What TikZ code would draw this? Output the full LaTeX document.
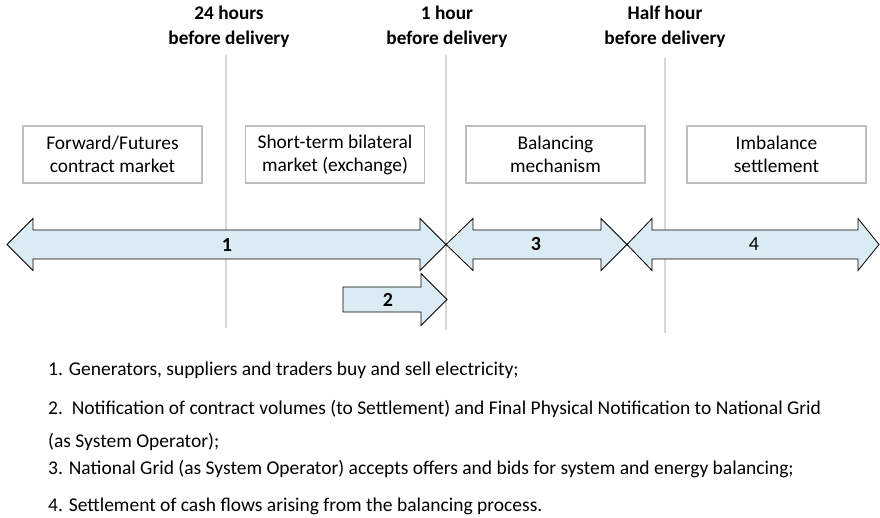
\documentclass[tikz,border=0pt]{standalone}
\usepackage{fontspec}
\setmainfont{Carlito}
\definecolor{arrowfill}{RGB}{219,235,243}
\definecolor{boxline}{RGB}{190,190,190}
\definecolor{vline}{RGB}{215,215,215}
\begin{document}
\begin{tikzpicture}[x=1pt,y=-1pt,
  header/.style={font=\fontsize{19.3}{25}\selectfont\bfseries,align=center,inner sep=0pt},
  market/.style={draw=boxline,line width=1.1pt,minimum width=179pt,minimum height=57pt,align=center,
    font=\fontsize{19.4}{23}\selectfont,inner sep=0pt},
  timeline/.style={draw=vline,line width=1.2pt},
  period/.style={draw=black,line width=0.8pt,fill=arrowfill,line join=miter},
  numlabel/.style={font=\fontsize{20}{24}\selectfont\bfseries,inner sep=0pt},
  note/.style={anchor=west,font=\fontsize{19.5}{23}\selectfont,inner sep=0pt}]
\useasboundingbox (0,0) rectangle (880,517);
% time lines
\coordinate (t1a) at (226,55); \coordinate (t1b) at (226,328);
\coordinate (t2a) at (446,55); \coordinate (t2b) at (446,330);
\coordinate (t3a) at (665,58); \coordinate (t3b) at (665,333);
\draw[timeline] (t1a) -- (t1b);
\draw[timeline] (t2a) -- (t2b);
\draw[timeline] (t3a) -- (t3b);
% headers
\node[header] (h1) at (229,27) {24 hours\\before delivery};
\node[header] (h2) at (447,27) {1 hour\\before delivery};
\node[header] (h3) at (665,27) {Half hour\\before delivery};
% boxes
\node[market] (m1) at (112.5,154.5) {Forward/Futures\\contract market};
\node[market] (m2) at (335,154.5) {Short-term bilateral\\market (exchange)};
\node[market] (m3) at (555.5,154.5) {Balancing\\mechanism};
\node[market] (m4) at (776.5,154.5) {Imbalance\\settlement};
% arrows
\draw[period] (7,244.5) -- (33,218.5) -- (33,230) -- (420,230) -- (420,218.5) -- (446,244.5)
  -- (420,270.5) -- (420,259) -- (33,259) -- (33,270.5) -- cycle;
\draw[period] (446,244.5) -- (473,218.5) -- (473,230) -- (601,230) -- (601,218.5) -- (627,244.5)
  -- (601,270.5) -- (601,259) -- (473,259) -- (473,270.5) -- cycle;
\draw[period] (627,244.5) -- (652,218.5) -- (652,230) -- (858,230) -- (858,218.5) -- (879,244.5)
  -- (858,270.5) -- (858,259) -- (652,259) -- (652,270.5) -- cycle;
\draw[period] (343,287) -- (421,287) -- (421,273.5) -- (447,299.5) -- (421,325.5) -- (421,312) -- (343,312) -- cycle;
\node[numlabel] (n1) at (227,244.5) {1};
\node[numlabel] (n2) at (388,300) {2};
\node[numlabel] (n3) at (536,244.5) {3};
\node[numlabel,font=\fontsize{20}{24}\selectfont] (n4) at (754,244.5) {4};
% notes
\node[note] (l1) at (48,370) {1. Generators, suppliers and traders buy and sell electricity;};
\node[note] (l2) at (48,409) {2.\ \ Notification of contract volumes (to Settlement) and Final Physical Notification to National Grid};
\node[note] (l2b) at (48,442) {(as System Operator);};
\node[note] (l3) at (48,469) {3. National Grid (as System Operator) accepts offers and bids for system and energy balancing;};
\node[note] (l4) at (48,506) {4. Settlement of cash flows arising from the balancing process.};
\end{tikzpicture}
\end{document}
